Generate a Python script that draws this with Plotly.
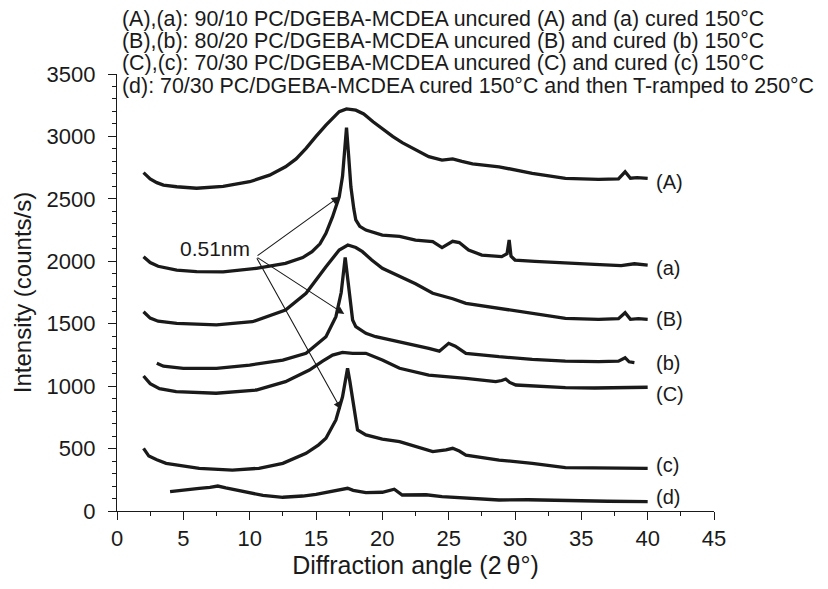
import plotly.graph_objects as go

# ---- data ----
x_A = [2.0, 2.5, 3.0, 3.5, 4.5, 6.0, 8.0, 10.0, 11.5, 12.7, 13.5, 14.25, 15.0, 15.75, 16.75, 17.3, 18.0, 18.6, 19.3, 20.0, 20.8, 21.5, 22.3, 23.5, 24.5, 25.3, 26.0, 26.8, 28.8, 31.3, 33.8, 36.3, 37.8, 38.3, 38.7, 39.2, 40.0]
y_A = [2710, 2660, 2630, 2610, 2597, 2585, 2600, 2637, 2690, 2757, 2820, 2905, 3000, 3091, 3198, 3220, 3210, 3180, 3118, 3060, 2998, 2950, 2905, 2838, 2810, 2820, 2800, 2780, 2757, 2704, 2664, 2656, 2660, 2717, 2665, 2670, 2664]

x_a = [2.0, 2.5, 3.1, 4.5, 6.0, 8.0, 10.5, 12.7, 14.0, 14.7, 15.3, 15.75, 16.25, 16.75, 17.0, 17.15, 17.3, 17.45, 17.63, 17.85, 18.0, 18.3, 18.76, 20.0, 21.3, 22.5, 23.8, 24.5, 25.3, 25.8, 26.5, 27.5, 29.0, 29.4, 29.56, 29.7, 30.0, 31.5, 33.8, 36.0, 38.0, 39.0, 40.0]
y_a = [2037, 1990, 1960, 1930, 1917, 1915, 1944, 1984, 2030, 2077, 2140, 2224, 2357, 2517, 2680, 2865, 3070, 2860, 2597, 2420, 2331, 2280, 2250, 2210, 2200, 2170, 2157, 2110, 2160, 2150, 2090, 2050, 2037, 2060, 2170, 2040, 2010, 2000, 1984, 1975, 1965, 1980, 1970]

x_B = [2.0, 2.5, 3.1, 4.5, 7.5, 10.2, 12.7, 14.25, 15.75, 16.75, 17.4, 18.0, 18.5, 19.2, 20.0, 21.3, 22.5, 23.8, 25.3, 26.3, 28.8, 31.3, 33.8, 36.3, 37.8, 38.3, 38.7, 39.3, 40.0]
y_B = [1596, 1545, 1520, 1503, 1490, 1516, 1610, 1744, 1957, 2090, 2130, 2110, 2077, 2010, 1944, 1877, 1820, 1744, 1700, 1663, 1623, 1583, 1543, 1535, 1540, 1588, 1535, 1540, 1535]

x_b = [3.0, 3.5, 5.0, 7.5, 10.0, 12.5, 14.25, 15.75, 16.5, 16.9, 17.2, 17.45, 17.76, 18.0, 18.76, 19.5, 21.3, 23.5, 24.3, 25.0, 25.5, 26.3, 28.8, 31.3, 33.8, 36.3, 37.8, 38.3, 38.6, 39.0]
y_b = [1183, 1160, 1143, 1143, 1169, 1209, 1263, 1396, 1556, 1750, 2030, 1800, 1530, 1476, 1423, 1396, 1356, 1303, 1280, 1343, 1320, 1263, 1236, 1215, 1201, 1196, 1200, 1228, 1195, 1188]

x_C = [2.0, 2.5, 3.2, 4.46, 7.47, 10.5, 12.7, 14.5, 15.5, 16.25, 17.0, 17.76, 18.76, 20.0, 21.3, 23.5, 26.3, 28.55, 29.0, 29.3, 29.6, 30.06, 33.8, 36.0, 40.0]
y_C = [1081, 1020, 980, 956, 943, 969, 1036, 1129, 1200, 1249, 1270, 1263, 1263, 1209, 1143, 1089, 1063, 1036, 1045, 1057, 1030, 1009, 988, 985, 991]

x_c = [2.0, 2.4, 3.0, 3.7, 6.2, 8.7, 10.7, 12.5, 14.25, 15.2, 15.75, 16.5, 17.0, 17.2, 17.38, 17.55, 17.76, 18.13, 18.76, 20.0, 21.3, 23.8, 24.8, 25.3, 25.8, 26.3, 28.8, 31.3, 33.8, 36.0, 40.0]
y_c = [502, 440, 410, 382, 342, 328, 342, 382, 462, 530, 582, 729, 915, 1050, 1143, 1040, 889, 649, 609, 575, 555, 475, 490, 502, 480, 448, 408, 382, 347, 345, 342]

x_d = [4.0, 5.0, 6.2, 7.0, 7.6, 8.2, 9.5, 11.0, 12.5, 14.0, 15.0, 16.5, 17.38, 17.8, 18.76, 20.0, 20.9, 21.5, 23.0, 23.3, 24.5, 26.3, 28.8, 31.0, 34.0, 37.0, 40.0]
y_d = [155, 170, 182, 190, 200, 185, 155, 125, 110, 120, 134, 160, 182, 165, 147, 150, 174, 128, 125, 130, 115, 102, 88, 90, 82, 78, 75]

curve_names = ["(A)", "(a)", "(B)", "(b)", "(C)", "(c)", "(d)"]
label_y = [2637, 1944, 1535, 1188, 935, 368, 110]

header_lines = [
    "(A),(a): 90/10 PC/DGEBA-MCDEA uncured (A) and (a) cured 150°C",
    "(B),(b): 80/20 PC/DGEBA-MCDEA uncured (B) and cured (b) 150°C",
    "(C),(c): 70/30 PC/DGEBA-MCDEA uncured (C) and cured (c) 150°C",
    "(d): 70/30 PC/DGEBA-MCDEA cured 150°C and then T-ramped to 250°C",
]

peak_label = "0.51nm"
arrow_tail = (10.48, 2037)
arrow_heads_x = [16.75, 17.13, 16.88]
arrow_heads_y = [2517, 1578, 815]

x_ticks = [0, 5, 10, 15, 20, 25, 30, 35, 40, 45]
y_ticks = [0, 500, 1000, 1500, 2000, 2500, 3000, 3500]

FONT = "Liberation Sans, Arial, Helvetica, sans-serif"
INK = "#1a1a1a"

fig = go.Figure()
series = [(x_A, y_A), (x_a, y_a), (x_B, y_B), (x_b, y_b), (x_C, y_C), (x_c, y_c), (x_d, y_d)]
for (xs, ys), nm in zip(series, curve_names):
    fig.add_trace(go.Scatter(x=xs, y=ys, mode="lines", name=nm,
                             line=dict(color=INK, width=3.3), showlegend=False))

annotations = []
for nm, ly in zip(curve_names, label_y):
    annotations.append(dict(x=40.48, y=ly, xref="x", yref="y", text=nm, showarrow=False,
                            xanchor="left", yanchor="middle",
                            font=dict(size=20, color=INK, family=FONT)))

header_y = [1.125, 1.0765, 1.0252, 0.9735]
for line, hy in zip(header_lines, header_y):
    annotations.append(dict(x=0.006, y=hy, xref="paper", yref="paper", text=line, showarrow=False,
                            xanchor="left", yanchor="middle", borderpad=0,
                            font=dict(size=21.4, color=INK, family=FONT)))

annotations.append(dict(x=7.42, y=2105, xref="x", yref="y", text=peak_label, showarrow=False,
                        xanchor="center", yanchor="middle",
                        font=dict(size=21, color=INK, family=FONT)))

for hx, hy in zip(arrow_heads_x, arrow_heads_y):
    annotations.append(dict(x=hx, y=hy, xref="x", yref="y", ax=arrow_tail[0], ay=arrow_tail[1],
                            axref="x", ayref="y", text="", showarrow=True,
                            arrowhead=2, arrowsize=1.4, arrowwidth=1.1, arrowcolor=INK))

fig.update_layout(
    width=828, height=589,
    margin=dict(l=109, r=122, t=66, b=86),
    paper_bgcolor="white", plot_bgcolor="white",
    font=dict(family=FONT, color=INK),
    annotations=annotations,
)
fig.update_xaxes(
    range=[0, 45], tickvals=x_ticks, showline=True, linecolor=INK, linewidth=1.3,
    ticks="outside", ticklen=8, tickwidth=1.3, tickcolor=INK,
    minor=dict(ticks="outside", ticklen=4, dtick=2.5, tick0=0, tickcolor=INK, tickwidth=1.2),
    showgrid=False, zeroline=False, tickfont=dict(size=22, family=FONT, color=INK),
    ticklabelstandoff=-1,
    title=dict(text="Diffraction angle (2\u2009θ°)", font=dict(size=25, family=FONT, color=INK), standoff=6),
)
fig.update_yaxes(
    range=[0, 3500], tickvals=y_ticks, showline=True, linecolor=INK, linewidth=1.3,
    ticks="outside", ticklen=8, tickwidth=1.3, tickcolor=INK,
    minor=dict(ticks="outside", ticklen=4, dtick=100, tick0=0, tickcolor=INK, tickwidth=1.2),
    showgrid=False, zeroline=False, tickfont=dict(size=22, family=FONT, color=INK),
    ticklabelstandoff=8,
    title=dict(text="Intensity (counts/s)", font=dict(size=24, family=FONT, color=INK), standoff=8),
)

fig.write_html("out.html")
